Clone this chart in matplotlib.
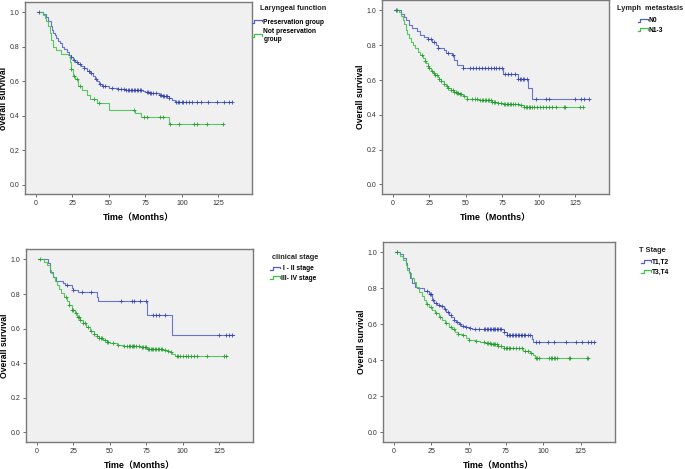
import numpy as np
import matplotlib
matplotlib.use("Agg")
import matplotlib.pyplot as plt
from matplotlib.lines import Line2D
from matplotlib.legend_handler import HandlerBase

plt.rcParams['font.family'] = ['Liberation Sans', 'Noto Sans CJK SC']

BLUE = '#4f5fc4'
BLUE_DARK = '#2f3fae'
GREEN = '#3fc24a'
GREEN_DARK = '#1f9a2a'

x_ticks = [0, 25, 50, 75, 100, 125]
y_ticks = [0.0, 0.2, 0.4, 0.6, 0.8, 1.0]

# ---- panel 1: laryngeal function ----
lar_pres_t = [1, 5, 7, 8.5, 10, 11, 12, 13, 14, 15, 16.5, 18, 19.5, 21, 22.5, 24, 25.5, 27, 29, 31,
              33, 35, 37, 39, 40.5, 42, 43.5, 45, 48, 50, 56, 62, 73, 75, 78, 84, 87, 91, 93, 95]
lar_pres_s = [1.0, 0.99, 0.97, 0.95, 0.92, 0.9, 0.88, 0.87, 0.85, 0.835, 0.82, 0.8, 0.785, 0.77, 0.755,
              0.74, 0.725, 0.71, 0.7, 0.69, 0.675, 0.66, 0.645, 0.63, 0.61, 0.6, 0.585, 0.575, 0.57,
              0.56, 0.555, 0.55, 0.545, 0.535, 0.53, 0.52, 0.515, 0.505, 0.49, 0.478]
lar_pres_end = 134
lar_pres_c = [2, 24, 26, 28, 30, 33, 36, 38, 41, 44, 46, 47, 52, 56, 58, 60, 62, 63, 64, 65, 66, 67, 68,
              69, 70, 71, 72, 76, 77, 78, 79, 80, 82, 85, 86, 87, 88, 89, 90, 91, 96, 97, 98, 100, 101,
              103, 105, 107, 110, 113, 118, 124, 129, 132, 134]

lar_not_t = [3, 5, 6, 7, 8.5, 9.5, 10.5, 12, 13.5, 17.5, 22, 23, 24, 25.5, 27, 28.5, 29, 31.5, 35, 37,
             42, 50, 68, 72, 91]
lar_not_s = [1.0, 0.985, 0.965, 0.95, 0.92, 0.88, 0.84, 0.8, 0.78, 0.76, 0.75, 0.71, 0.67, 0.63, 0.613,
             0.59, 0.575, 0.55, 0.518, 0.494, 0.475, 0.43, 0.413, 0.393, 0.353]
lar_not_end = 128
lar_not_c = [24, 26, 28, 30, 40, 43, 67, 74, 76, 85, 87, 92, 98, 108, 110, 117, 128]

# ---- panel 2: lymph metastasis ----
n0_t = [1, 6, 8, 9, 11, 13.5, 16.5, 19, 21.5, 24, 27, 29.5, 31, 35, 36.5, 40.5, 42, 44, 48, 75.5,
        85.5, 92.5, 95.3]
n0_s = [1.0, 0.98, 0.965, 0.946, 0.917, 0.898, 0.879, 0.86, 0.846, 0.835, 0.82, 0.8, 0.783, 0.774,
        0.758, 0.745, 0.716, 0.687, 0.672, 0.635, 0.605, 0.553, 0.489]
n0_end = 134
n0_c = [2, 24, 26, 28, 31, 38, 41, 48, 53, 55, 57, 59, 61, 63, 65, 67, 69, 71, 73, 75, 77, 79, 81, 84,
        86, 87, 88, 89, 90, 92, 98, 105, 107, 125, 129, 131, 134]

n13_t = [2, 4.5, 5.5, 6.8, 8, 9, 10, 11.4, 12.5, 13.7, 15.5, 17, 19, 20.5, 22, 23, 24, 25, 26.5, 27.5,
         29, 31, 32, 33, 35, 36.5, 38, 40, 42, 44, 46, 48, 51, 59, 68, 72, 75.5, 86.5, 90]
n13_s = [1.0, 0.99, 0.97, 0.946, 0.92, 0.89, 0.865, 0.84, 0.82, 0.802, 0.783, 0.764, 0.745, 0.726,
         0.71, 0.697, 0.68, 0.668, 0.65, 0.639, 0.63, 0.62, 0.608, 0.597, 0.58, 0.566, 0.555, 0.543,
         0.532, 0.524, 0.517, 0.509, 0.493, 0.486, 0.476, 0.468, 0.461, 0.457, 0.447]
n13_end = 130.5
n13_c = [3, 20, 22, 24, 25, 27, 28, 29, 30, 32, 33, 35, 37, 38, 40, 41, 42, 43, 44, 45, 46, 47, 49, 51,
         54, 56, 58, 60, 61, 62, 63, 64, 65, 66, 67, 68, 69, 70, 72, 74, 76, 77, 78, 79, 80, 81, 82,
         84, 86, 88, 90, 91, 92, 93, 94, 95, 97, 99, 101, 103, 105, 107, 109, 112, 117, 118, 128, 130]

# ---- panel 3: clinical stage ----
st12_t = [1, 7.5, 9, 11.4, 13.3, 18.3, 19.4, 24, 25, 28.6, 41.1, 42.3, 75.4, 93]
st12_s = [1.0, 0.981, 0.929, 0.9, 0.875, 0.862, 0.852, 0.837, 0.824, 0.81, 0.785, 0.757, 0.676, 0.565]
st12_end = 135
st12_c = [21, 25, 31, 37, 58, 65, 67, 71, 75, 80, 82, 84, 88, 125, 130, 132, 134]

st34_t = [1, 5, 6.9, 9, 10, 11.4, 12.5, 13.7, 15.5, 17, 19, 20.6, 22, 24, 26, 27.4, 29.5, 32, 34,
          36.6, 39, 41, 43, 45.7, 48, 50.3, 54.8, 59.4, 65, 70.8, 75.4, 86.8, 89, 91.4, 93, 94.8]
st34_s = [1.0, 0.985, 0.967, 0.94, 0.92, 0.9, 0.875, 0.852, 0.83, 0.805, 0.78, 0.757, 0.735, 0.709,
          0.69, 0.67, 0.65, 0.632, 0.61, 0.584, 0.568, 0.556, 0.545, 0.536, 0.525, 0.517, 0.508,
          0.502, 0.497, 0.492, 0.485, 0.479, 0.472, 0.465, 0.455, 0.444]
st34_end = 130.7
st34_c = [2, 20, 22, 24, 25, 27, 28, 29, 30, 32, 33, 35, 37, 39, 41, 43, 44, 45, 47, 48, 49, 52, 56,
          60, 62, 63, 64, 65, 66, 67, 68, 70, 72, 73, 74, 75, 76, 77, 78, 79, 80, 81, 82, 83, 84, 85,
          86, 88, 90, 92, 96, 97, 98, 100, 102, 104, 106, 108, 110, 117, 128, 130]

# ---- panel 4: T stage ----
t12_t = [1, 4.4, 6, 7.8, 9, 10, 11, 12.2, 14, 15.6, 20, 23.4, 25.6, 27, 29, 31, 33.4, 35, 36.7, 38.5,
         40, 41.5, 43.4, 45, 47.8, 50, 52.3, 73.4, 75.6, 92.3, 93.4]
t12_s = [1.0, 0.99, 0.97, 0.94, 0.915, 0.894, 0.86, 0.829, 0.81, 0.8, 0.786, 0.767, 0.736, 0.72,
         0.708, 0.7, 0.686, 0.67, 0.652, 0.64, 0.624, 0.612, 0.6, 0.59, 0.587, 0.58, 0.572, 0.559,
         0.54, 0.518, 0.503]
t12_end = 134.6
t12_c = [2, 22, 24, 25, 26, 28, 30, 32, 34, 36, 38, 40, 42, 44, 46, 48, 51, 54, 57, 60, 61, 62, 63,
         64, 65, 66, 67, 68, 69, 70, 71, 72, 74, 76, 77, 78, 79, 80, 81, 82, 83, 84, 85, 86, 87, 88,
         90, 91, 95, 97, 103, 107, 115, 122, 126, 130, 132, 134]

t34_t = [0.5, 4.4, 6, 7.8, 9, 10, 11.5, 13.3, 15, 16.7, 18.5, 20, 21.5, 23.4, 25.5, 27.8, 30, 32.3,
         34.5, 36.7, 39, 41, 43, 45.5, 48, 50, 54, 57.8, 61, 64.5, 70, 73.4, 84.5, 86.7, 91.2, 93, 94.5]
t34_s = [1.0, 0.983, 0.96, 0.931, 0.905, 0.885, 0.86, 0.838, 0.81, 0.782, 0.76, 0.736, 0.715, 0.698,
         0.68, 0.661, 0.642, 0.624, 0.605, 0.587, 0.572, 0.559, 0.548, 0.54, 0.525, 0.512, 0.505,
         0.5, 0.494, 0.488, 0.479, 0.47, 0.466, 0.451, 0.438, 0.43, 0.413]
t34_end = 130
t34_c = [2, 22, 25, 28, 31, 35, 38, 40, 43, 46, 50, 55, 60, 62, 63, 64, 65, 66, 67, 68, 69, 70, 72,
         74, 75, 76, 77, 78, 80, 82, 84, 86, 88, 90, 92, 95, 96, 97, 104, 105, 106, 107, 108, 109,
         117, 118, 129, 130]


class StepHandler(HandlerBase):
    # little SPSS-like step glyph in the legend
    def create_artists(self, legend, orig_handle, xdescent, ydescent, width, height, fontsize, trans):
        x0, y0 = -xdescent, -ydescent
        xs = [x0, x0 + 0.25 * width, x0 + 0.25 * width, x0 + width, x0 + width]
        ys = [y0 + 0.15 * height, y0 + 0.15 * height, y0 + 0.85 * height, y0 + 0.85 * height, y0 + 0.45 * height]
        ln = Line2D(xs, ys, color=orig_handle.get_color(), lw=0.9, transform=trans)
        return [ln]


def draw_km(ax, times, surv, end, censors, color, dark):
    xs = list(times) + [end]
    ys = list(surv) + [surv[-1]]
    line, = ax.plot(xs, ys, drawstyle='steps-post', color=color, lw=0.8, alpha=0.85)
    idx = np.searchsorted(times, censors, side='right') - 1
    cy = np.array(surv)[np.clip(idx, 0, None)]
    ax.plot(censors, cy, ls='none', marker='+', ms=3.2, mew=0.7, color=dark, alpha=0.8)
    return line


fig = plt.figure(figsize=(6.85, 4.69), dpi=100)
W, H = 685.0, 469.0

panels = [
    dict(box=(25, 2, 252, 194), ylabel='overall survival', title='Laryngeal function',
         title_xy=(260, 9), leg_xy=(252, 18.5),
         curves=[(lar_pres_t, lar_pres_s, lar_pres_end, lar_pres_c, 'Preservation group'),
                 (lar_not_t, lar_not_s, lar_not_end, lar_not_c, 'Not preservation\ngroup')]),
    dict(box=(381.7, 0, 609, 194), ylabel='Overall survival', title='Lymph  metastasis',
         title_xy=(617, 9), leg_xy=(637.5, 17.5),
         curves=[(n0_t, n0_s, n0_end, n0_c, 'N0'),
                 (n13_t, n13_s, n13_end, n13_c, 'N1-3')]),
    dict(box=(25.7, 249, 252.7, 442), ylabel='Overall survival', title='clinical stage',
         title_xy=(272, 257), leg_xy=(270, 265.5),
         curves=[(st12_t, st12_s, st12_end, st12_c, ' I - II stage'),
                 (st34_t, st34_s, st34_end, st34_c, 'III- IV stage')]),
    dict(box=(382.7, 241.7, 615, 442), ylabel='Overall survival', title='T Stage',
         title_xy=(639, 250), leg_xy=(641, 259),
         curves=[(t12_t, t12_s, t12_end, t12_c, 'T1,T2'),
                 (t34_t, t34_s, t34_end, t34_c, 'T3,T4')]),
]

for p in panels:
    x1, y1, x2, y2 = p['box']
    ax = fig.add_axes([x1 / W, 1 - y2 / H, (x2 - x1) / W, (y2 - y1) / H])
    ax.set_facecolor('#f0f0f0')
    handles, labels = [], []
    for (t, s, e, c, lab), col, dk in zip(p['curves'], [BLUE, GREEN], [BLUE_DARK, GREEN_DARK]):
        handles.append(draw_km(ax, t, s, e, c, col, dk))
        labels.append(lab)
    ax.set_xlim(-7.5, 148)
    ax.set_ylim(-0.055, 1.06)
    ax.set_xticks(x_ticks)
    ax.set_yticks(y_ticks)
    ax.set_yticklabels([f'{v:.1f}' for v in y_ticks])
    ax.tick_params(labelsize=5, length=2.5, width=0.6, color='#555555', labelcolor='#333333', pad=1.5)
    for sp in ax.spines.values():
        sp.set_color('#7a7a7a')
        sp.set_linewidth(1.0)
    ax.set_xlabel('Time（Months）', fontsize=6.5, fontweight='bold', labelpad=5)
    ax.set_ylabel(p['ylabel'], fontsize=6.2, fontweight='bold', labelpad=1)

    fig.text(p['title_xy'][0] / W, 1 - p['title_xy'][1] / H, p['title'], fontsize=5.3,
             fontweight='bold', ha='left', va='center', color='#222222')
    lx, ly = p['leg_xy']
    ax.legend(handles, labels, loc='upper left', bbox_to_anchor=(lx / W, 1 - ly / H),
              bbox_transform=fig.transFigure, frameon=False, handler_map={Line2D: StepHandler()},
              prop=dict(size=4.8, weight='bold'), handlelength=1.5, handletextpad=0.2,
              labelspacing=0.4, borderpad=0, borderaxespad=0)

fig.savefig('out.png', dpi=100, facecolor='white')
